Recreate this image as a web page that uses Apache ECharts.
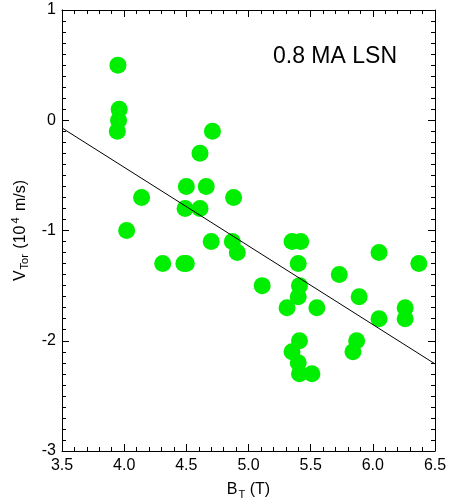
<!DOCTYPE html>
<html>
<head>
<meta charset="utf-8">
<script src="https://cdn.jsdelivr.net/npm/echarts@6/dist/echarts.min.js"></script>
<style>html,body{margin:0;padding:0;background:#fff}#c{width:449px;height:504px}</style>
</head>
<body>
<div id="c"></div>
<script>
const btValues = [3.95, 3.96, 3.955, 3.945, 4.02, 4.14, 4.31, 4.48, 4.50, 4.50, 4.49, 4.61, 4.66, 4.61, 4.71, 4.70,
  4.88, 4.87, 4.91, 5.11, 5.31, 5.35, 5.42, 5.40, 5.41, 5.40, 5.55, 5.41, 5.35, 5.40, 5.41, 5.51,
  5.73, 5.89, 5.87, 5.84, 6.05, 6.05, 6.26, 6.26, 6.37];
const vTorValues = [0.5, 0.1, 0.0, -0.1, -1.0, -0.7, -1.3, -1.3, -1.3, -0.6, -0.8, -0.3, -0.6, -0.8, -0.1, -1.1,
  -0.7, -1.1, -1.2, -1.5, -1.7, -1.1, -1.1, -1.3, -1.5, -1.6, -1.7, -2.0, -2.1, -2.2, -2.3, -2.3,
  -1.4, -1.6, -2.0, -2.1, -1.2, -1.8, -1.7, -1.8, -1.3];
const fitX = [3.5, 6.5];
const fitY = [-0.07, -2.21];
const xTicks = [3.5, 4.0, 4.5, 5.0, 5.5, 6.0, 6.5];
const yTicks = [-3, -2, -1, 0, 1];
const annotation = '0.8 MA LSN';

const chart = echarts.init(document.getElementById('c'));
const font = 'Liberation Sans, Arial, sans-serif';
const baseAxis = {
  axisLine: {show: true, onZero: false, lineStyle: {color: '#000', width: 1}},
  axisTick: {show: true, inside: true, length: 7, lineStyle: {color: '#000'}},
  minorTick: {show: true, splitNumber: 5, length: 4, lineStyle: {color: '#000'}},
  splitLine: {show: false},
};
chart.setOption({
  animation: false,
  grid: {left: 62, right: 14, top: 10, bottom: 53, containLabel: false, outerBoundsMode: 'none'},
  xAxis: [
    Object.assign({}, baseAxis, {
      type: 'value', min: 3.5, max: 6.5, interval: 0.5, position: 'bottom',
      axisLabel: {color: '#000', fontSize: 16, fontFamily: font, margin: 7,
        formatter: v => v.toFixed(1)},
      name: '{b|B}{s|T}{b| (T)}', nameLocation: 'middle', nameGap: 28,
      nameTextStyle: {rich: {
        b: {fontSize: 16, fontFamily: font, color: '#000'},
        s: {fontSize: 11, fontFamily: font, color: '#000', padding: [10, 0, 0, 1]}
      }}
    }),
    Object.assign({}, baseAxis, {
      type: 'value', min: 3.5, max: 6.5, interval: 0.5, position: 'top',
      axisLabel: {show: false}
    })
  ],
  yAxis: [
    Object.assign({}, baseAxis, {
      type: 'value', min: -3, max: 1, interval: 1, position: 'left',
      minorTick: {show: true, splitNumber: 10, length: 4, lineStyle: {color: '#000'}},
      axisLabel: {color: '#000', fontSize: 16, fontFamily: font, margin: 6},
      name: '{b|V}{s|Tor}{b| (10}{p|4}{b| m/s)}', nameLocation: 'middle', nameGap: 30, nameRotate: 90,
      nameTextStyle: {rich: {
        b: {fontSize: 16, fontFamily: font, color: '#000'},
        s: {fontSize: 11, fontFamily: font, color: '#000', padding: [10, 1, 0, 1]},
        p: {fontSize: 11, fontFamily: font, color: '#000', padding: [0, 2, 8, 2]}
      }}
    }),
    Object.assign({}, baseAxis, {
      type: 'value', min: -3, max: 1, interval: 1, position: 'right',
      minorTick: {show: true, splitNumber: 10, length: 4, lineStyle: {color: '#000'}},
      axisLabel: {show: false}
    })
  ],
  series: [
    {
      type: 'line', data: fitX.map((x, i) => [x, fitY[i]]), symbol: 'none',
      lineStyle: {color: '#000', width: 1}, z: 3
    },
    {
      type: 'scatter', data: btValues.map((x, i) => [x, vTorValues[i]]),
      symbol: 'circle', symbolSize: 17, itemStyle: {color: '#00ee00', opacity: 1}, z: 2
    }
  ],
  graphic: [{
    type: 'text', left: 273, top: 45,
    style: {text: annotation, fontSize: 23, fontFamily: font, fill: '#000'}
  }]
});
</script>
</body>
</html>
